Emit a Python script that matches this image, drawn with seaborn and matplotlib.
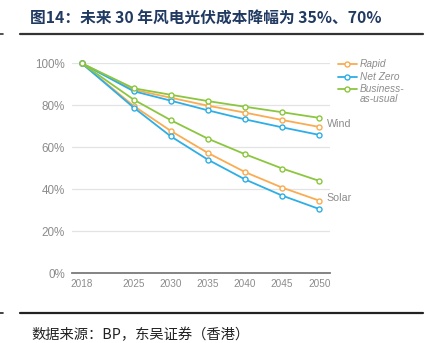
import matplotlib
matplotlib.use("Agg")
import matplotlib.pyplot as plt
from matplotlib.lines import Line2D
import seaborn as sns
import pandas as pd

years = [2018, 2025, 2030, 2035, 2040, 2045, 2050]
scenarios = ["Rapid", "Net Zero", "Business-\nas-usual"]
wind_rapid = [100, 87.4, 83.6, 79.8, 76.5, 73.0, 69.7]
wind_netzero = [100, 86.7, 82.2, 77.6, 73.3, 69.5, 65.9]
wind_bau = [100, 88.1, 85.0, 82.0, 79.3, 76.7, 74.0]
solar_rapid = [100, 79.7, 67.8, 57.3, 48.2, 40.8, 34.6]
solar_netzero = [100, 78.9, 65.2, 54.1, 44.7, 37.0, 30.6]
solar_bau = [100, 82.7, 72.9, 64.1, 56.7, 49.9, 44.0]
yticks = [0, 20, 40, 60, 80, 100]
tech_labels = ["Wind", "Solar"]
title = "图14：未来 30 年风电光伏成本降幅为 35%、70%"
source = "数据来源：BP，东吴证券（香港）"

colors = {"Rapid": "#f9ac52", "Net Zero": "#2eaee6", "Business-\nas-usual": "#8cc63f"}

sns.set_theme(style="white")
plt.rcParams["font.family"] = ["Liberation Sans", "DejaVu Sans"]

W, H = 439, 343
fig = plt.figure(figsize=(W / 100, H / 100), dpi=100)

def fx(px):
    return px / W

def fy(py):
    return 1 - py / H

ax_l, ax_r, ax_t, ax_b = 71.7, 330, 63.3, 273.3
ax = fig.add_axes([fx(ax_l), fy(ax_b), fx(ax_r) - fx(ax_l), fy(ax_t) - fy(ax_b)])

rows = []
series = {
    ("Wind", "Rapid"): wind_rapid,
    ("Wind", "Net Zero"): wind_netzero,
    ("Wind", "Business-\nas-usual"): wind_bau,
    ("Solar", "Rapid"): solar_rapid,
    ("Solar", "Net Zero"): solar_netzero,
    ("Solar", "Business-\nas-usual"): solar_bau,
}
for (tech, sc), vals in series.items():
    for y, v in zip(years, vals):
        rows.append({"tech": tech, "scenario": sc, "year": y, "value": v})
df = pd.DataFrame(rows)

mk = dict(marker="o", markersize=3.6, markerfacecolor="white", markeredgewidth=1.0)
for tech in tech_labels:
    for sc in scenarios:
        sub = df[(df.tech == tech) & (df.scenario == sc)]
        c = colors[sc]
        sns.lineplot(data=sub, x="year", y="value", ax=ax, color=c, lw=1.3,
                     markeredgecolor=c, clip_on=False, zorder=3, **mk)

ax.set_xlim(2016.65, 2051.44)
ax.set_ylim(0, 100)
ax.set_xticks(years)
ax.set_xticklabels([str(y) for y in years])
ax.set_yticks(yticks)
ax.set_yticklabels([f"{t}%" for t in yticks])
ax.set_xlabel("")
ax.set_ylabel("")
ax.grid(axis="y", color="#e3e3e3", lw=0.9)
ax.grid(axis="x", visible=False)
for s in ["top", "left", "right"]:
    ax.spines[s].set_visible(False)
ax.spines["bottom"].set_color("#7a7a7a")
ax.spines["bottom"].set_linewidth(1.3)
ax.tick_params(axis="both", length=0, colors="#8c8c8c")
ax.tick_params(axis="y", pad=5, labelsize=8.4)
ax.tick_params(axis="x", pad=4, labelsize=7.2)

# Wind / Solar labels at the end of each group
fig.text(fx(326.7), fy(124), tech_labels[0], fontsize=7.7, color="#8c8c8c",
         va="center", ha="left")
fig.text(fx(326.7), fy(198.3), tech_labels[1], fontsize=7.7, color="#8c8c8c",
         va="center", ha="left")

# Legend (drawn at the reference's spot)
leg_y = [63.7, 76.7, 89.3]
for sc, ly in zip(scenarios, leg_y):
    c = colors[sc]
    fig.add_artist(Line2D([fx(337.7), fx(356.7)], [fy(ly), fy(ly)], color=c, lw=1.3))
    fig.add_artist(Line2D([fx(347.2)], [fy(ly)], color=c, markeredgecolor=c, **mk))
    fig.text(fx(360), fy(ly), sc.split("\n")[0], fontsize=7.3, color="#8c8c8c",
             style="italic", va="center", ha="left")
    if "\n" in sc:
        fig.text(fx(360), fy(ly + 9.7), sc.split("\n")[1], fontsize=7.3,
                 color="#8c8c8c", style="italic", va="center", ha="left")

# Title and rules
fig.text(fx(30), fy(17.5), title, fontsize=11.3, fontweight="bold",
         color="#213a62", va="center", ha="left",
         family=["Noto Sans CJK SC", "DejaVu Sans"])
fig.add_artist(Line2D([fx(20), fx(423)], [fy(34.3), fy(34.3)], color="#333333", lw=1.6))
fig.add_artist(Line2D([fx(0), fx(3)], [fy(34.3), fy(34.3)], color="#333333", lw=1.2))
fig.add_artist(Line2D([fx(20), fx(423)], [fy(313.3), fy(313.3)], color="#222222", lw=1.6))
fig.add_artist(Line2D([fx(0), fx(3)], [fy(313.3), fy(313.3)], color="#222222", lw=1.2))
fig.text(fx(31), fy(327.5), source, fontsize=10.3, color="#222222", va="top",
         ha="left", family=["Noto Sans CJK SC", "DejaVu Sans"])

fig.savefig("out.png", dpi=100)
